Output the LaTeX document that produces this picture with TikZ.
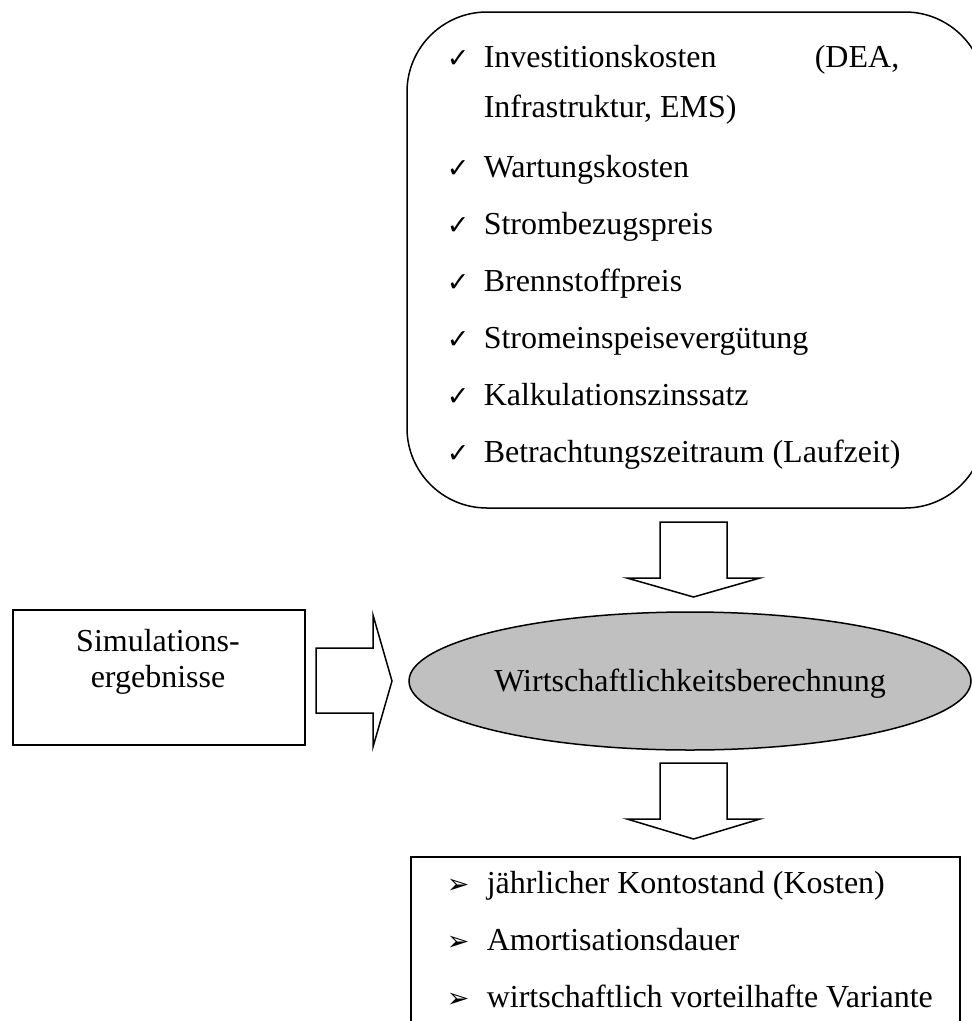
\documentclass[tikz,border=0pt]{standalone}
\usepackage{fontspec}
\setmainfont{Liberation Serif}
\newfontfamily\symfont{DejaVu Sans}
\usetikzlibrary{shapes.geometric}
\definecolor{ellgray}{HTML}{C0C0C0}
\begin{document}
\begin{tikzpicture}[x=1pt,y=-1pt,line width=1.5pt,
  txt/.style={inner sep=0pt,anchor=base west,font=\fontsize{32}{38}\selectfont},
  ctxt/.style={inner sep=0pt,anchor=base,font=\fontsize{32}{38}\selectfont},
  chk/.style={inner sep=0pt,anchor=base west,font=\symfont\fontsize{27}{30}\selectfont},
  bul/.style={inner sep=0pt,anchor=base west,font=\symfont\fontsize{27}{30}\selectfont},
  blockarrow/.style={draw,fill=white,line join=miter}
]
\useasboundingbox (0,0) rectangle (972,1021);
\begin{scope}
\clip (0,0) rectangle (972,1021);
% parameter box (extends past the right edge)
\node[draw,rounded corners=80pt,minimum width=578pt,minimum height=496pt,inner sep=0pt] (params) at (696,260) {};
% result box (extends past the bottom edge)
\node[draw,minimum width=549pt,minimum height=200pt,inner sep=0pt,anchor=north west] (results) at (410,856) {};
\end{scope}

% parameter list
\node[chk] (c1) at (446,67) {✓};
\node[txt] (t1) at (483,67) {Investitionskosten};
\node[inner sep=0pt,anchor=base east,font=\fontsize{32}{38}\selectfont] (t1b) at (900,67) {(DEA,};
\node[txt] (t1c) at (483,117) {Infrastruktur, EMS)};
\node[chk] (c2) at (446,177) {✓};
\node[txt] (t2) at (483,177) {Wartungskosten};
\node[chk] (c3) at (446,234) {✓};
\node[txt] (t3) at (483,234) {Strombezugspreis};
\node[chk] (c4) at (446,291) {✓};
\node[txt] (t4) at (483,291) {Brennstoffpreis};
\node[chk] (c5) at (446,348) {✓};
\node[txt] (t5) at (483,348) {Stromeinspeisevergütung};
\node[chk] (c6) at (446,405) {✓};
\node[txt] (t6) at (483,405) {Kalkulationszinssatz};
\node[chk] (c7) at (446,462) {✓};
\node[txt] (t7) at (483,462) {Betrachtungszeitraum (Laufzeit)};

% down arrow 1
\draw[blockarrow] (660,522) -- (727,522) -- (727,578) -- (760,578) -- (693.5,597) -- (627,578) -- (660,578) -- cycle;

% simulation box
\node[draw,minimum width=292pt,minimum height=135pt,inner sep=0pt,anchor=north west] (sim) at (12,609) {};
\node[ctxt] (s1) at (158,651) {Simulations-};
\node[ctxt] (s2) at (158,687) {ergebnisse};

% right arrow
\draw[blockarrow] (316,648) -- (373,648) -- (373,615) -- (392,681) -- (373,747) -- (373,713) -- (316,713) -- cycle;

% ellipse
\node[ellipse,draw,fill=ellgray,minimum width=562pt,minimum height=138pt,inner sep=0pt] (calc) at (690,681) {};
\node[ctxt] (calctext) at (690,691) {Wirtschaftlichkeitsberechnung};

% down arrow 2
\draw[blockarrow] (660,763) -- (727,763) -- (727,819) -- (760,819) -- (693.5,839) -- (627,819) -- (660,819) -- cycle;

% result list
\node[bul] (b1) at (446,893) {➢};
\node[txt] (r1) at (486,893) {jährlicher Kontostand (Kosten)};
\node[bul] (b2) at (446,950) {➢};
\node[txt] (r2) at (486,950) {Amortisationsdauer};
\node[bul] (b3) at (446,1007) {➢};
\node[txt] (r3) at (486,1007) {wirtschaftlich vorteilhafte Variante};
\end{tikzpicture}
\end{document}
